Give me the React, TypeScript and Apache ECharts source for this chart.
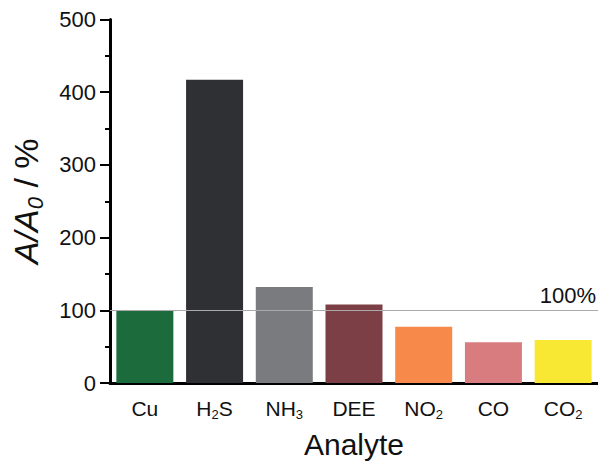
import React, { useEffect, useRef } from "react";
import * as echarts from "echarts";

const categories = ["Cu", "H2S", "NH3", "DEE", "NO2", "CO", "CO2"];
const categoryLabels = [
  "{n|Cu}",
  "{n|H}{s|2}{n|S}",
  "{n|NH}{s|3}",
  "{n|DEE}",
  "{n|NO}{s|2}",
  "{n|CO}",
  "{n|CO}{s|2}",
];
const values = [100, 417, 132, 108, 77.5, 56, 59];
const barColors = ["#1c6b3c", "#2e3033", "#7a7b7f", "#7b3f45", "#f7894a", "#d87c80", "#f8e834"];
const referenceValue = 100;
const yTicks = { min: 0, max: 500, interval: 100 };

const FONT = "'Liberation Sans', Arial, Helvetica, sans-serif";

export default function App() {
  const ref = useRef<HTMLDivElement>(null);
  useEffect(() => {
    if (!ref.current) return;
    const chart = echarts.init(ref.current, null, { renderer: "svg" });
    chart.setOption({
      animation: false,
      backgroundColor: "#ffffff",
      textStyle: { fontFamily: FONT },
      grid: { left: 110, right: 0, top: 19.5, bottom: 81 },
      xAxis: {
        type: "category",
        data: categories,
        name: "Analyte",
        nameLocation: "middle",
        nameGap: 46,
        nameTextStyle: { fontSize: 30, color: "#111", fontFamily: FONT },
        axisLine: { lineStyle: { color: "#000", width: 3 } },
        axisTick: { alignWithLabel: true, interval: 0, length: 8, lineStyle: { width: 2, color: "#000" } },
        axisLabel: {
          interval: 0,
          margin: 12,
          formatter: (_v: string, i: number) => categoryLabels[i],
          rich: {
            n: { fontSize: 21, color: "#111", fontFamily: FONT, lineHeight: 26 },
            s: { fontSize: 13, color: "#111", fontFamily: FONT, lineHeight: 16, verticalAlign: "bottom" },
          },
        },
      },
      yAxis: {
        type: "value",
        min: yTicks.min,
        max: yTicks.max,
        interval: yTicks.interval,
        name: "{i|A/A}{is|0}{n| / %}",
        nameLocation: "middle",
        nameRotate: 90,
        nameGap: 64,
        nameTextStyle: {
          rich: {
            i: { fontSize: 34, fontStyle: "italic", color: "#111", fontFamily: FONT, lineHeight: 40 },
            is: { fontSize: 22, fontStyle: "italic", color: "#111", fontFamily: FONT, lineHeight: 24, verticalAlign: "bottom" },
            n: { fontSize: 34, color: "#111", fontFamily: FONT, lineHeight: 40 },
          },
        },
        axisLine: { show: true, lineStyle: { color: "#000", width: 3 } },
        axisTick: { show: true, length: 10, lineStyle: { width: 2, color: "#000" } },
        minorTick: { show: true, splitNumber: 2, length: 5, lineStyle: { width: 2, color: "#000" } },
        splitLine: { show: false },
        axisLabel: { fontSize: 22, color: "#111", margin: 14, fontFamily: FONT },
      },
      series: [
        {
          type: "line",
          data: [],
          z: 1,
          silent: true,
          markLine: {
            silent: true,
            symbol: "none",
            lineStyle: { color: "#aaaaaa", width: 1, type: "solid" },
            label: {
              show: true,
              position: "insideEndTop",
              formatter: "100%",
              fontSize: 22,
              color: "#111",
              fontFamily: FONT,
              distance: [2, 4],
            },
            data: [{ yAxis: referenceValue }],
          },
        },
        {
          type: "bar",
          z: 2,
          barWidth: 57,
          data: values.map((v, i) => ({ value: v, itemStyle: { color: barColors[i] } })),
        },
      ],
    });
    return () => chart.dispose();
  }, []);
  return (
    <div
      ref={ref}
      style={{ position: "fixed", left: 0, top: 0, width: 598, height: 464 }}
    />
  );
}
